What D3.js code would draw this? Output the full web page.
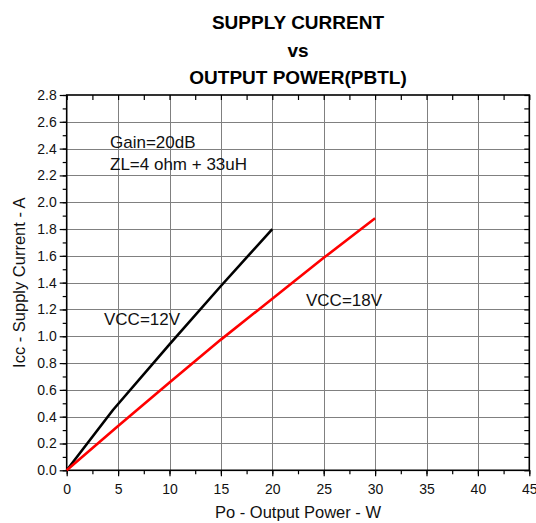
<!DOCTYPE html>
<html>
<head>
<meta charset="utf-8">
<script src="https://cdn.jsdelivr.net/npm/d3@7"></script>
<style>
  html, body { margin: 0; padding: 0; background: #fff; }
  svg { display: block; font-family: "Liberation Sans", Arial, sans-serif; }
</style>
</head>
<body>
<svg id="chart" width="536" height="523"></svg>
<script>
// Supply current vs output power, PBTL mode
const vcc12Power   = [0, 4.5, 10, 15, 20];
const vcc12Current = [0, 0.45, 0.94, 1.375, 1.80];
const vcc18Power   = [0, 5, 10, 15, 20, 25, 30];
const vcc18Current = [0, 0.33, 0.655, 0.975, 1.28, 1.585, 1.88];

const xTicks = [0, 5, 10, 15, 20, 25, 30, 35, 40, 45];
const yTicks = [0.0, 0.2, 0.4, 0.6, 0.8, 1.0, 1.2, 1.4, 1.6, 1.8, 2.0, 2.2, 2.4, 2.6, 2.8];
const xMinor = d3.range(0, 45.01, 2.5);
const yMinor = d3.range(0, 2.801, 0.1);

const titleLines = ["SUPPLY CURRENT", "vs", "OUTPUT POWER(PBTL)"];
const notes = ["Gain=20dB", "ZL=4 ohm + 33uH"];

const svg = d3.select("#chart");
const L = 66.7, R = 529.3, T = 95, B = 470.3;

const x = d3.scaleLinear().domain([0, 45]).range([L, R]);
const y = d3.scaleLinear().domain([0, 2.8]).range([B, T]);

// grid
const grid = svg.append("g").attr("stroke", "#808080").attr("stroke-width", 1);
grid.selectAll("line.v").data(xTicks.slice(1, -1)).join("line")
  .attr("x1", d => Math.round(x(d)) + 0.5).attr("x2", d => Math.round(x(d)) + 0.5)
  .attr("y1", T).attr("y2", B);
grid.selectAll("line.h").data(yTicks.slice(1, -1)).join("line")
  .attr("y1", d => Math.round(y(d)) + 0.5).attr("y2", d => Math.round(y(d)) + 0.5)
  .attr("x1", L).attr("x2", R);

// axes
const fmtY = d3.format(".1f");
svg.append("g").attr("transform", `translate(0,${B})`)
  .call(d3.axisBottom(x).tickValues(xTicks).tickSize(6).tickPadding(8).tickFormat(d3.format("d")));
svg.append("g").attr("transform", `translate(0,${B})`)
  .call(d3.axisBottom(x).tickValues(xMinor).tickSize(4).tickFormat(""));
svg.append("g").attr("transform", `translate(${L},0)`)
  .call(d3.axisLeft(y).tickValues(yTicks).tickSize(7).tickPadding(3).tickFormat(fmtY));
svg.append("g").attr("transform", `translate(${L},0)`)
  .call(d3.axisLeft(y).tickValues(yMinor).tickSize(4).tickFormat(""));
// mirrored inner ticks on top and right
svg.append("g").attr("transform", `translate(0,${T})`)
  .call(d3.axisBottom(x).tickValues(xMinor).tickSize(5).tickFormat(""));
svg.append("g").attr("transform", `translate(${R},0)`)
  .call(d3.axisLeft(y).tickValues(yMinor).tickSize(5).tickFormat(""));

svg.selectAll(".domain").remove();
svg.selectAll(".tick line").attr("stroke", "#000").attr("stroke-width", 1.2);
svg.selectAll(".tick text").attr("fill", "#111").style("font-size", "14px")
  .style("font-family", "'Liberation Sans', Arial, sans-serif");

// frame
svg.append("rect").attr("x", L).attr("y", T).attr("width", R - L).attr("height", B - T)
  .attr("fill", "none").attr("stroke", "#000").attr("stroke-width", 1.6);

// series
const line = d3.line().x(d => x(d[0])).y(d => y(d[1]));
svg.append("path").datum(d3.zip(vcc12Power, vcc12Current))
  .attr("d", line).attr("fill", "none").attr("stroke", "#000").attr("stroke-width", 2.6)
  .attr("stroke-linejoin", "round");
svg.append("path").datum(d3.zip(vcc18Power, vcc18Current))
  .attr("d", line).attr("fill", "none").attr("stroke", "#ff0000").attr("stroke-width", 2.6)
  .attr("stroke-linejoin", "round");

// titles
const title = svg.append("g").attr("font-weight", "bold").attr("font-size", 19)
  .attr("text-anchor", "middle").attr("fill", "#000");
title.selectAll("text").data(titleLines).join("text")
  .attr("x", (L + R) / 2).attr("y", (d, i) => 29 + i * 27.5).text(d => d);

// axis labels
svg.append("text").attr("x", (L + R) / 2).attr("y", 518).attr("text-anchor", "middle")
  .attr("font-size", 16.5).attr("fill", "#111").text("Po - Output Power - W");
svg.append("text").attr("transform", `translate(25,${(T + B) / 2}) rotate(-90)`)
  .attr("text-anchor", "middle").attr("font-size", 16.5).attr("fill", "#111")
  .text("Icc - Supply Current - A");

// annotations
svg.selectAll("text.note").data(notes).join("text").attr("class", "note")
  .attr("x", 110).attr("y", (d, i) => 148 + i * 22).attr("font-size", 17).attr("fill", "#111")
  .text(d => d);
svg.append("text").attr("x", 104).attr("y", 325).attr("font-size", 17).attr("fill", "#111").text("VCC=12V");
svg.append("text").attr("x", 306).attr("y", 306).attr("font-size", 17).attr("fill", "#111").text("VCC=18V");
</script>
</body>
</html>
